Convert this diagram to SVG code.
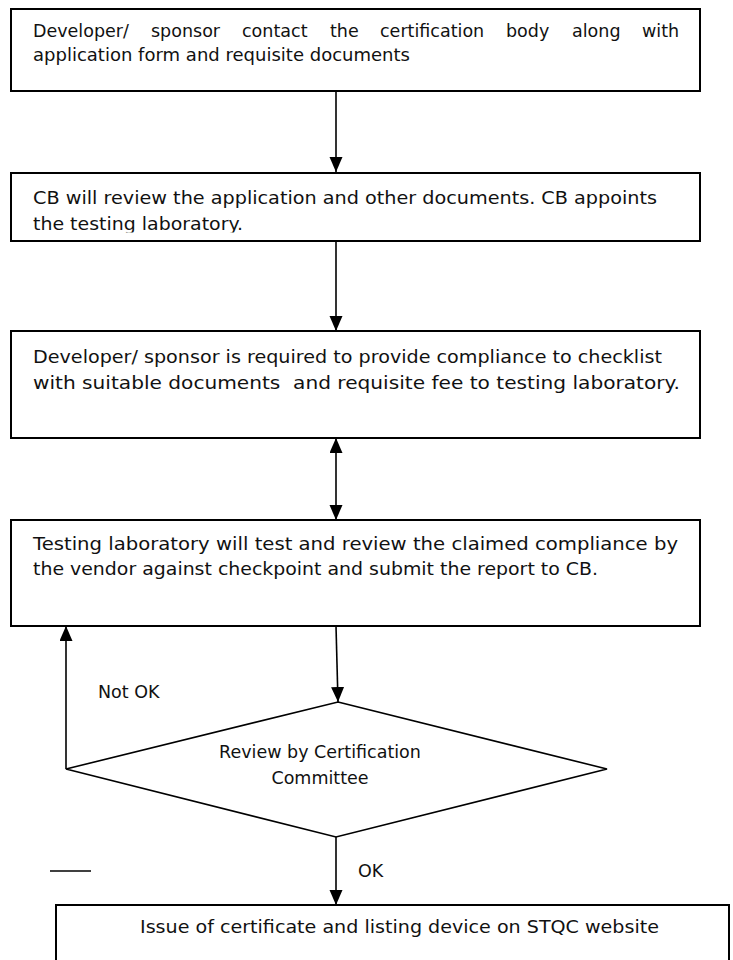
<svg xmlns="http://www.w3.org/2000/svg" width="733" height="960" viewBox="0 0 733 960">
<style>
.box{fill:#fff;stroke:#000;stroke-width:2}
.dia{fill:#fff;stroke:#000;stroke-width:1.6}
.t{font-family:"DejaVu Sans","Liberation Sans",sans-serif;font-size:17.5px;fill:#111;white-space:pre}
.m{text-anchor:middle}
.c{fill:none;stroke:#000;stroke-width:1.6}
</style>
<defs>
<marker id="ah" markerUnits="userSpaceOnUse" markerWidth="16" markerHeight="14" refX="15" refY="6.5" orient="auto-start-reverse" viewBox="0 0 16 14">
<path d="M0,0 L15,6.5 L0,13 z" fill="#000"/>
</marker>
<clipPath id="clip2"><rect x="10" y="172" width="690" height="60.5"/></clipPath>
</defs>
<g id="connectors">
<line class="c" x1="336" y1="91" x2="336" y2="172" marker-end="url(#ah)"/>
<line class="c" x1="336" y1="241" x2="336" y2="331" marker-end="url(#ah)"/>
<line class="c" x1="336" y1="438" x2="336" y2="520" marker-start="url(#ah)" marker-end="url(#ah)"/>
<line class="c" x1="336" y1="626" x2="338" y2="702" marker-end="url(#ah)"/>
<line class="c" x1="66" y1="769" x2="66" y2="626" marker-end="url(#ah)"/>
<line class="c" x1="336" y1="837" x2="336" y2="905" marker-end="url(#ah)"/>
<line class="c" x1="50" y1="871" x2="91" y2="871"/>
<text class="t" x="98" y="698">Not OK</text>
<text class="t" x="358" y="877">OK</text>
</g>
<g id="node1">
<rect class="box" x="11" y="9" width="689" height="82"/>
<text class="t" y="37"><tspan x="33">Developer/</tspan><tspan x="151">sponsor</tspan><tspan x="242">contact</tspan><tspan x="330">the</tspan><tspan x="380">certification</tspan><tspan x="506">body</tspan><tspan x="572">along</tspan><tspan x="642">with</tspan></text>
<text class="t" x="33" y="61" textLength="377" lengthAdjust="spacingAndGlyphs">application form and requisite documents</text>
</g>
<g id="node2">
<rect class="box" x="11" y="173" width="689" height="68"/>
<g clip-path="url(#clip2)">
<text class="t" x="33" y="204" textLength="624" lengthAdjust="spacingAndGlyphs">CB will review the application and other documents. CB appoints</text>
<text class="t" x="33" y="230" textLength="210" lengthAdjust="spacingAndGlyphs">the testing laboratory.</text>
</g>
</g>
<g id="node3">
<rect class="box" x="11" y="331" width="689" height="107"/>
<text class="t" x="33" y="363" textLength="629" lengthAdjust="spacingAndGlyphs">Developer/ sponsor is required to provide compliance to checklist</text>
<text class="t" x="33" y="389" textLength="647" lengthAdjust="spacingAndGlyphs">with suitable documents  and requisite fee to testing laboratory.</text>
</g>
<g id="node4">
<rect class="box" x="11" y="520" width="689" height="106"/>
<text class="t" x="33" y="550" textLength="645" lengthAdjust="spacingAndGlyphs">Testing laboratory will test and review the claimed compliance by</text>
<text class="t" x="33" y="575" textLength="565" lengthAdjust="spacingAndGlyphs">the vendor against checkpoint and submit the report to CB.</text>
</g>
<g id="node5">
<polygon class="dia" points="338,702 607,769 336,837 66,769"/>
<text class="t m" x="320" y="758">Review by Certification</text>
<text class="t m" x="320" y="784">Committee</text>
</g>
<g id="node6">
<rect class="box" x="56" y="905" width="673" height="70"/>
<text class="t" x="140" y="933" textLength="519" lengthAdjust="spacingAndGlyphs">Issue of certificate and listing device on STQC website</text>
</g>
</svg>
